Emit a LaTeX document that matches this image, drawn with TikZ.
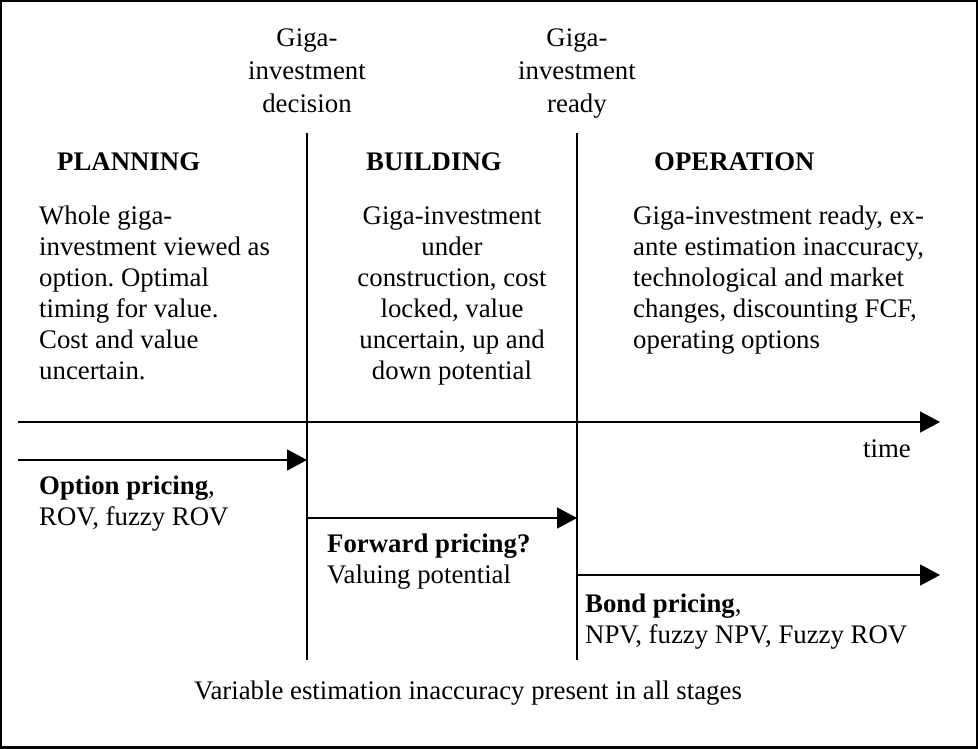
\documentclass[tikz,border=0pt]{standalone}
\usepackage{fontspec}
\setmainfont{Liberation Serif}
\usetikzlibrary{arrows.meta}
\frenchspacing
\newcommand\Ln[1]{\hbox{#1}}
\newcommand\Lc[1]{\hbox to 0pt{\hss#1\hss}}
\tikzset{
  txt/.style={inner sep=0pt, font=\fontsize{26.8}{31}\selectfont},
  hdr/.style={txt, font=\fontsize{26.8}{33}\selectfont},
  rule/.style={line width=1.6pt},
  timearrow/.style={line width=1.6pt, -{Triangle[length=20pt,width=21pt]}},
  frame/.style={line width=2.2pt}
}
\begin{document}
\begin{tikzpicture}[x=1pt,y=-1pt]
\useasboundingbox (0,0) rectangle (978,749);
\draw[frame] (1.1,1.1) rectangle (976.6,747.4);

% milestone labels
\node[hdr, anchor=base] (dec) at (307,47) {\vtop{\Lc{Giga-}\Lc{investment}\Lc{decision}}};
\node[hdr, anchor=base] (rdy) at (577,47) {\vtop{\Lc{Giga-}\Lc{investment}\Lc{ready}}};

% vertical separators
\coordinate (v1t) at (307,133);
\coordinate (v1b) at (307,660);
\coordinate (v2t) at (577,133);
\coordinate (v2b) at (577,660);
\draw[rule] (v1t) -- (v1b);
\draw[rule] (v2t) -- (v2b);

% stage headings
\node[txt, anchor=base west] (plan) at (57,171) {\textbf{PLANNING}};
\node[txt, anchor=base west] (build) at (366,171) {\textbf{BUILDING}};
\node[txt, anchor=base west] (oper) at (654,171) {\textbf{OPERATION}};

% stage descriptions
\node[txt, anchor=base west] (pdesc) at (39,225) {\vtop{\Ln{Whole giga-}\Ln{investment viewed as}\Ln{option. Optimal}\Ln{timing for value.}\Ln{Cost and value}\Ln{uncertain.}}};
\node[txt, anchor=base] (bdesc) at (452,225) {\vtop{\Lc{Giga-investment}\Lc{under}\Lc{construction, cost}\Lc{locked, value}\Lc{uncertain, up and}\Lc{down potential}}};
\node[txt, anchor=base west] (odesc) at (633,225) {\vtop{\Ln{Giga-investment ready, ex-}\Ln{ante estimation inaccuracy,}\Ln{technological and market}\Ln{changes, discounting FCF,}\Ln{operating options}}};

% time axis
\coordinate (ts) at (18,422);
\coordinate (te) at (940,422);
\draw[timearrow] (ts) -- (te);
\node[txt, anchor=base] (time) at (887,457) {time};

% pricing arrows
\coordinate (a1s) at (18,460);
\coordinate (a1e) at (307,460);
\coordinate (a2s) at (307,518);
\coordinate (a2e) at (577,518);
\coordinate (a3s) at (577,575);
\coordinate (a3e) at (940,575);
\draw[timearrow] (a1s) -- (a1e);
\draw[timearrow] (a2s) -- (a2e);
\draw[timearrow] (a3s) -- (a3e);

\node[txt, anchor=base west] (opt) at (39,494) {\vtop{\Ln{\textbf{Option pricing},}\Ln{ROV, fuzzy ROV}}};
\node[txt, anchor=base west] (fwd) at (327,552) {\vtop{\Ln{\textbf{Forward pricing?}}\Ln{Valuing potential}}};
\node[txt, anchor=base west] (bond) at (585,612) {\vtop{\Ln{\textbf{Bond pricing},}\Ln{NPV, fuzzy NPV, Fuzzy ROV}}};

% footer
\node[txt, anchor=base] (foot) at (468,699) {Variable estimation inaccuracy present in all stages};
\end{tikzpicture}
\end{document}
